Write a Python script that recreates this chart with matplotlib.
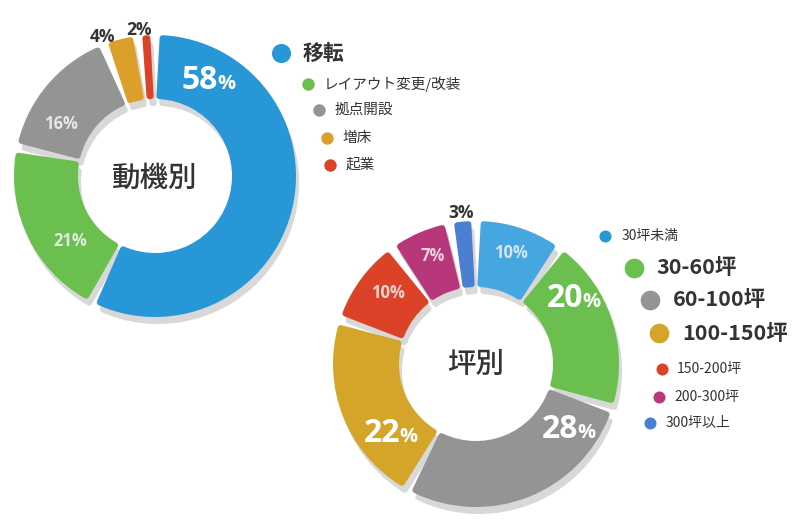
import numpy as np
import matplotlib
matplotlib.use("Agg")
import matplotlib.pyplot as plt

plt.rcParams['font.family'] = ['Noto Sans CJK JP', 'DejaVu Sans']

# --- data -------------------------------------------------------------
motive_labels = ['移転', 'レイアウト変更/改装', '拠点開設', '増床', '起業']
motive_values = [58, 21, 16, 4, 2]
motive_colors = ['#2897d8', '#6bbf4e', '#949494', '#dca02a', '#dc4227']

size_labels = ['30坪未満', '30-60坪', '60-100坪', '100-150坪', '150-200坪', '200-300坪', '300坪以上']
size_values = [10, 20, 28, 22, 10, 7, 3]
size_colors = ['#45a6e0', '#6bbf4e', '#949494', '#d5a52a', '#dc4227', '#b8377a', '#4a7fd1']
size_legend_colors = ['#2897d8', '#6bbf4e', '#949494', '#d5a52a', '#dc4227', '#b8377a', '#4a7fd1']

W, H = 800, 520
TXT = '#333333'
SHADOW = '#d8d8d8'
NUMFONT = ['Open Sans', 'DejaVu Sans']


def Y(y):
    # image pixel row -> axes y
    return H - y


def draw_donut(ax, values, colors, cx, cy, r_out, r_in, pad=3.0, gap=6.0):
    width = r_out - r_in
    r_mid = (r_out + r_in) / 2
    delta = np.degrees((gap / 2 + pad) / r_mid)
    lw = 2 * pad * 72 / 100
    for off, cols in (((3, 7), [SHADOW] * len(values)), ((0, 0), colors)):
        wedges, _ = ax.pie(values, colors=cols, startangle=90, counterclock=False,
                           radius=r_out, center=(cx + off[0], Y(cy + off[1])),
                           wedgeprops=dict(width=width))
        for wdg, c in zip(wedges, cols):
            t1, t2 = wdg.theta1, wdg.theta2
            wdg.set_theta1(t1 + delta)
            wdg.set_theta2(max(t2 - delta, t1 + delta + 0.2))
            wdg.set_radius(r_out - pad)
            wdg.set_width(width - 2 * pad)
            wdg.set_edgecolor(c)
            wdg.set_linewidth(lw)
            wdg.set_joinstyle('round')


def big_pct(ax, x_split, y_base, num, color='white'):
    ax.text(x_split, Y(y_base), num, ha='right', va='baseline', fontsize=23,
            fontweight='bold', color=color, family=NUMFONT)
    ax.text(x_split - 1, Y(y_base), '%', ha='left', va='baseline', fontsize=14.5,
            fontweight='bold', color=color, family=NUMFONT)


def small_pct(ax, x, y, text, color, alpha=1.0, fs=12):
    ax.text(x, Y(y), text, ha='center', va='center', fontsize=fs,
            fontweight='bold', color=color, family=NUMFONT, alpha=alpha)


fig = plt.figure(figsize=(8, 5.2), dpi=100)
ax = fig.add_axes([0, 0, 1, 1])

# left donut: 動機別
draw_donut(ax, motive_values, motive_colors, 155, 176, 141, 77)
ax.text(155, Y(178), '動機別', ha='center', va='center', fontsize=20.5,
        fontweight='medium', color=TXT)
big_pct(ax, 218, 89, '58')
small_pct(ax, 61, 124, '16%', '#f0f0f0', 0.9)
small_pct(ax, 70, 241, '21%', '#f0f0f0', 0.9)
small_pct(ax, 103, 37, '4%', TXT, fs=12.5)
small_pct(ax, 139, 30, '2%', TXT, fs=12.5)

# left legend
motive_leg = [(281, 53, 303, 15, 190), (308, 84, 324, 10.5, 80), (319, 110, 335, 10.5, 80),
              (327, 138, 343, 10.5, 80), (330, 165, 346, 10.5, 80)]
for lab, c, (dx, dy, tx, fs, ms) in zip(motive_labels, motive_colors, motive_leg):
    ax.scatter([dx], [Y(dy)], s=ms, color=c, zorder=5, linewidths=0)
    ax.text(tx, Y(dy), lab, ha='left', va='center', fontsize=fs, color=TXT,
            fontweight='bold' if fs > 12 else 'normal')

# right donut: 坪別
draw_donut(ax, size_values, size_colors, 476, 364, 143, 77)
ax.text(476, Y(364), '坪別', ha='center', va='center', fontsize=20.5,
        fontweight='medium', color=TXT)
small_pct(ax, 511, 253, '10%', '#f0f0f0', 0.85)
big_pct(ax, 583, 307, '20')
big_pct(ax, 578, 438, '28')
big_pct(ax, 400, 442, '22')
small_pct(ax, 388, 293, '10%', '#f0f0f0', 0.85)
small_pct(ax, 433, 256, '7%', '#f0f0f0', 0.85)
small_pct(ax, 461, 213, '3%', TXT, fs=12.5)

# right legend
size_leg = [(605, 236, 622, 10, 75), (634, 268, 656, 15.5, 200), (650, 300, 673, 15.5, 200),
            (659, 333, 682, 15.5, 200), (662, 369, 677, 10, 75), (659, 397, 674, 10, 75),
            (650, 423, 666, 10, 75)]
for lab, c, (dx, dy, tx, fs, ms) in zip(size_labels, size_legend_colors, size_leg):
    ax.scatter([dx], [Y(dy)], s=ms, color=c, zorder=5, linewidths=0)
    ax.text(tx, Y(dy), lab, ha='left', va='center', fontsize=fs, color=TXT,
            fontweight='bold' if fs > 12 else 'normal')

ax.set_xlim(0, W)
ax.set_ylim(0, H)
ax.set_aspect('equal')
ax.axis('off')

fig.savefig('out.png', dpi=100, facecolor='white')
